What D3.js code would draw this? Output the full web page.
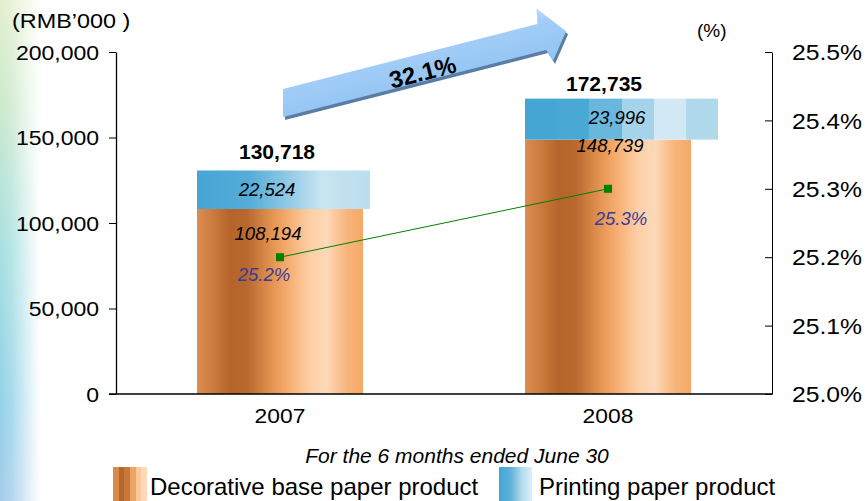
<!DOCTYPE html>
<html>
<head>
<meta charset="utf-8">
<script src="https://cdn.jsdelivr.net/npm/d3@7"></script>
<style>
  html, body { margin: 0; padding: 0; background: #fff; }
  svg { display: block; font-family: "Liberation Sans", Arial, sans-serif; }
</style>
</head>
<body>
<svg id="chart" width="865" height="501"></svg>
<script>
// ---- data ----
const categories = ["2007", "2008"];
const decorative = [108194, 148739];
const printing = [22524, 23996];
const totals = [130718, 172735];
const margin = [25.2, 25.3];
const leftTicks = [0, 50000, 100000, 150000, 200000];
const rightTicks = [25.0, 25.1, 25.2, 25.3, 25.4, 25.5];
const growthLabel = "32.1%";
const leftTitle = "(RMB\u2019000 )";
const rightTitle = "(%)";
const footnote = "For the 6 months ended June 30";
const legendNames = ["Decorative base paper product", "Printing paper product"];

// ---- layout ----
const svg = d3.select("#chart");
const X0 = 116, X1 = 772, Y0 = 394, Y1 = 52;
const x = d3.scalePoint().domain(categories).range([X0, X1]).padding(0.5);
const yL = d3.scaleLinear().domain([0, 200000]).range([Y0, Y1]);
const yR = d3.scaleLinear().domain([25.0, 25.5]).range([Y0, Y1]);
const decoW = 166;
const printW = [173, 193];
const defs = svg.append("defs");

function grad(id, stops, stepped) {
  const g = defs.append("linearGradient").attr("id", id).attr("x1", 0).attr("x2", 1).attr("y1", 0).attr("y2", 0);
  if (stepped) {
    const n = stops.length;
    stops.forEach((c, i) => {
      g.append("stop").attr("offset", i / n).attr("stop-color", c);
      g.append("stop").attr("offset", (i + 1) / n).attr("stop-color", c);
    });
  } else {
    stops.forEach(s => g.append("stop").attr("offset", s[0]).attr("stop-color", s[1]));
  }
}
grad("decoGrad", [[0, "#dc8d50"], [0.1, "#c97a3c"], [0.2, "#b5652b"], [0.3, "#b8682d"], [0.45, "#e39350"], [0.55, "#f6ad70"], [0.68, "#fccfa6"], [0.78, "#fdd9b9"], [0.9, "#f8b67c"], [1, "#f5a867"]]);
grad("printGradA", [[0, "#45a5d4"], [0.3, "#55acd8"], [0.5, "#8ac6e4"], [0.72, "#c8e4f1"], [1, "#badeee"]]);
grad("printGradB", ["#45a6d4", "#4aa8d5", "#6ab7de", "#a5d3ea", "#d2e9f5", "#b0d9eb"], true);
grad("decoSwatch", ["#d98a4a", "#b5662b", "#c8783a", "#eea466", "#fbc99a", "#fdd9b8"], true);
grad("printSwatch", [[0, "#45a5d4"], [0.35, "#5fb2da"], [0.7, "#b6dcee"], [1, "#dcf0f8"]]);

// left decorative strip
const vg = defs.append("linearGradient").attr("id", "stripV").attr("x1", 0).attr("x2", 0).attr("y1", 0).attr("y2", 1);
[[0, "#e3efcf"], [0.2, "#cde9cc"], [0.5, "#a6e0e0"], [0.8, "#92d2e8"], [1, "#a4cbe9"]].forEach(s => vg.append("stop").attr("offset", s[0]).attr("stop-color", s[1]));
const hg = defs.append("linearGradient").attr("id", "stripH").attr("x1", 0).attr("x2", 1).attr("y1", 0).attr("y2", 0);
[[0, "#fff", 1], [0.3, "#fff", 0.8], [1, "#fff", 0]].forEach(s => hg.append("stop").attr("offset", s[0]).attr("stop-color", s[1]).attr("stop-opacity", s[2]));
const mask = defs.append("mask").attr("id", "stripMask");
mask.append("rect").attr("x", 0).attr("y", 0).attr("width", 40).attr("height", 501).attr("fill", "url(#stripH)");
svg.append("rect").attr("x", 0).attr("y", 0).attr("width", 40).attr("height", 501).attr("fill", "url(#stripV)").attr("mask", "url(#stripMask)");

// ---- bars ----
const gBars = svg.append("g");
gBars.selectAll("rect.deco").data(categories).join("rect").attr("class", "deco")
  .attr("x", d => x(d) - decoW / 2).attr("width", decoW)
  .attr("y", (d, i) => yL(decorative[i])).attr("height", (d, i) => yL(0) - yL(decorative[i]))
  .attr("fill", "url(#decoGrad)");
gBars.selectAll("rect.print").data(categories).join("rect").attr("class", "print")
  .attr("x", d => x(d) - decoW / 2).attr("width", (d, i) => printW[i])
  .attr("y", (d, i) => yL(decorative[i] + printing[i])).attr("height", (d, i) => yL(decorative[i]) - yL(decorative[i] + printing[i]))
  .attr("fill", (d, i) => i === 0 ? "url(#printGradA)" : "url(#printGradB)");

// ---- axes ----
function stretchText(sel, sx, xOff) {
  sel.attr("x", xOff / sx).attr("transform", `scale(${sx},1)`);
}
const axL = svg.append("g").attr("transform", `translate(${X0},0)`)
  .call(d3.axisLeft(yL).tickValues(leftTicks).tickSize(7).tickSizeOuter(0).tickFormat(d3.format(",")));
axL.selectAll("text").attr("font-size", 19.5).attr("fill", "#000").attr("font-family", "Liberation Sans, Arial").attr("dy", "0.36em")
  .call(stretchText, 1.18, -17);
axL.selectAll("line").attr("stroke", "#000");
axL.select(".domain").attr("stroke", "#000").attr("stroke-width", 1.3);

const axR = svg.append("g").attr("transform", `translate(${X1},0)`)
  .call(d3.axisRight(yR).tickValues(rightTicks).tickSize(-7).tickSizeOuter(0).tickFormat(d => d3.format(".1f")(d) + "%"));
axR.selectAll("text").attr("font-size", 21.5).attr("fill", "#000").attr("font-family", "Liberation Sans, Arial").attr("dy", "0.36em")
  .call(stretchText, 1.15, 20);
axR.selectAll("line").attr("stroke", "#000");
axR.select(".domain").attr("stroke", "#000");

const axB = svg.append("g").attr("transform", `translate(0,${Y0})`)
  .call(d3.axisBottom(x).tickSize(0).tickPadding(0));
axB.select(".domain").remove();
axB.selectAll("text").attr("font-size", 19.5).attr("fill", "#000").attr("font-family", "Liberation Sans, Arial")
  .attr("dy", "0").attr("y", 29).attr("text-anchor", "middle")
  .attr("transform", "scale(1.17,1)")
  .each(function (d) { d3.select(this.parentNode).attr("transform", `translate(${x(d)},0)`); });
svg.append("line").attr("x1", X0 - 7).attr("x2", X1).attr("y1", Y0).attr("y2", Y0).attr("stroke", "#000").attr("stroke-width", 1.3);

// ---- titles ----
function label(str, px, py, size, opts = {}) {
  const sx = opts.sx || 1;
  return svg.append("text")
    .attr("transform", `translate(${px},${py})${opts.rot ? ` rotate(${opts.rot})` : ""} scale(${sx},1)`)
    .attr("text-anchor", opts.anchor || "start")
    .attr("font-size", size)
    .attr("font-weight", opts.bold ? "bold" : "normal")
    .attr("font-style", opts.italic ? "italic" : "normal")
    .attr("fill", opts.fill || "#000")
    .text(str);
}
label(leftTitle, 12, 28, 20, { sx: 1.17 });
label(rightTitle, 697, 37, 19);

// ---- growth arrow ----
const ag = defs.append("linearGradient").attr("id", "arrowGrad").attr("x1", 0).attr("x2", 0).attr("y1", 0).attr("y2", 1);
[[0, "#bcdcfb"], [0.25, "#a2cdf8"], [1, "#92c3f2"]].forEach(s => ag.append("stop").attr("offset", s[0]).attr("stop-color", s[1]));
const arrowPts = [[3.5, -13.6], [266, -13.6], [269, -29], [292, 0.5], [272, 26], [268, 13.6], [-3.5, 13.6]];
const arrowG = svg.append("g");
arrowG.append("polygon").attr("points", arrowPts.map(p => p.join(",")).join(" "))
  .attr("transform", "translate(285,106) rotate(-14.3)").attr("fill", "#5a7da3");
arrowG.append("polygon").attr("points", arrowPts.map(p => p.join(",")).join(" "))
  .attr("transform", "translate(283,103) rotate(-14.3)").attr("fill", "url(#arrowGrad)");
arrowG.append("text").attr("transform", "translate(283,103) rotate(-14.3)")
  .attr("x", 143).attr("y", 13).attr("text-anchor", "middle")
  .attr("font-size", 24).attr("font-weight", "bold").attr("fill", "#000").text(growthLabel);

// ---- value labels ----
const lab = {
  total: [{ dx: -3, dy: -11 }, { dx: -4, dy: -8 }],
  print: [{ dx: -13, dy: 6 }, { dx: 9, dy: 5 }],
  deco: [{ dx: -12, dy: 31 }, { dx: 2, dy: 12 }],
  pct: [{ dx: -16, dy: 24 }, { dx: 13, dy: 36 }]
};
categories.forEach((c, i) => {
  const cx = x(c);
  label(d3.format(",")(totals[i]), cx + lab.total[i].dx, yL(totals[i]) + lab.total[i].dy, 19.5, { anchor: "middle", bold: true, sx: 1.08 });
  const pm = (yL(decorative[i]) + yL(decorative[i] + printing[i])) / 2;
  label(d3.format(",")(printing[i]), cx + lab.print[i].dx, pm + lab.print[i].dy, 18.5, { anchor: "middle", italic: true });
  label(d3.format(",")(decorative[i]), cx + lab.deco[i].dx, yL(decorative[i]) + lab.deco[i].dy, 18.5, { anchor: "middle", italic: true });
  label(d3.format(".1f")(margin[i]) + "%", cx + lab.pct[i].dx, yR(margin[i]) + lab.pct[i].dy, 18.5, { anchor: "middle", italic: true, fill: "#3b3b9b" });
});

// ---- margin line ----
const line = d3.line().x((d, i) => x(categories[i])).y(d => yR(d));
svg.append("path").datum(margin).attr("d", line).attr("fill", "none").attr("stroke", "#008000").attr("stroke-width", 1);
svg.selectAll("rect.mk").data(margin).join("rect").attr("class", "mk")
  .attr("x", (d, i) => x(categories[i]) - 4).attr("y", d => yR(d) - 4)
  .attr("width", 8).attr("height", 8).attr("fill", "#008000");

// ---- footnote & legend ----
label(footnote, 457, 463, 21, { anchor: "middle", italic: true });
svg.append("rect").attr("x", 113).attr("y", 467).attr("width", 34).attr("height", 34).attr("fill", "url(#decoSwatch)");
label(legendNames[0], 150, 495, 24);
svg.append("rect").attr("x", 499).attr("y", 467).attr("width", 33).attr("height", 34).attr("fill", "url(#printSwatch)");
label(legendNames[1], 539, 495, 24);
</script>
</body>
</html>
